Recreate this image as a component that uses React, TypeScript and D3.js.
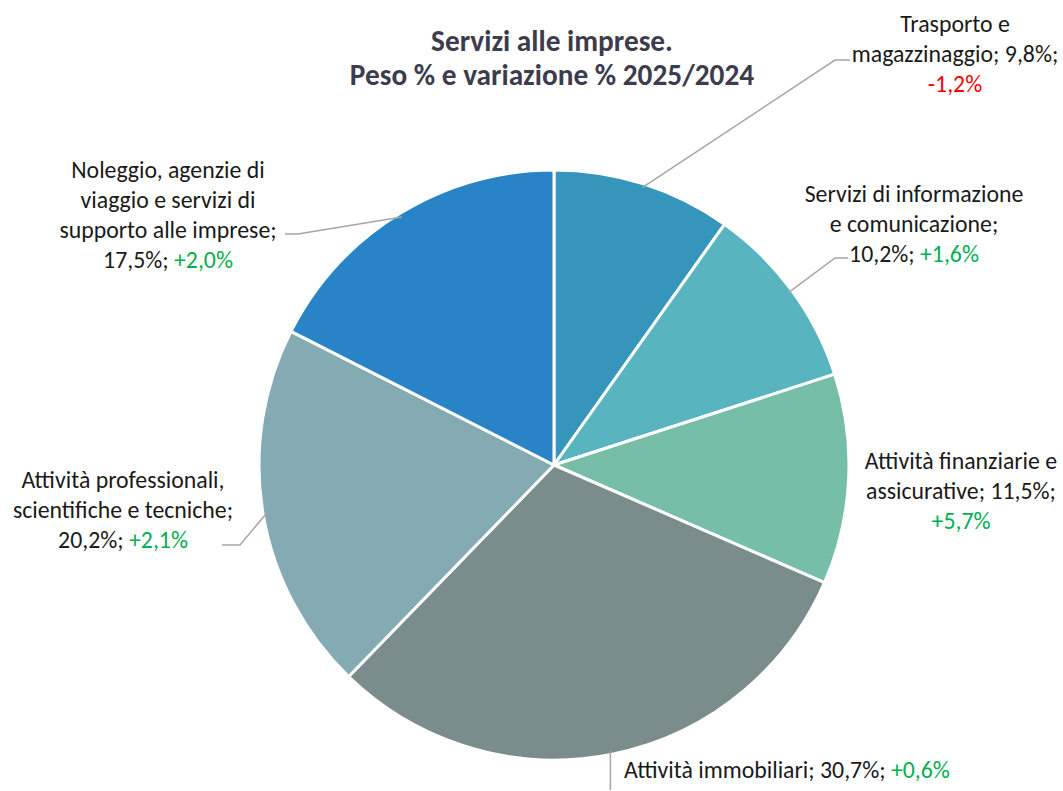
import React from "react";
import * as d3 from "d3";

const categories = [
  "Trasporto e magazzinaggio",
  "Servizi di informazione e comunicazione",
  "Attività finanziarie e assicurative",
  "Attività immobiliari",
  "Attività professionali, scientifiche e tecniche",
  "Noleggio, agenzie di viaggio e servizi di supporto alle imprese",
];
const shares = [9.8, 10.2, 11.5, 30.7, 20.2, 17.5];
const changes = [-1.2, 1.6, 5.7, 0.6, 2.1, 2.0];
const colors = ["#3595BA", "#58B5C0", "#76BEA7", "#7A8C8C", "#84ABB4", "#2884C7"];
const titleLines = ["Servizi alle imprese.", "Peso % e variazione % 2025/2024"];

// label layout: lines of the label text
const labelLayout = [
  { x: 955, y: 23, anchor: "middle", lines: ["Trasporto e", "magazzinaggio; {s};", "{c}"], leader: [[835, 60], [850, 60]] },
  { x: 914, y: 193, anchor: "middle", lines: ["Servizi di informazione", "e comunicazione;", "{s}; {c}"], leader: [[835, 258], [848, 258]] },
  { x: 961, y: 460, anchor: "middle", lines: ["Attività finanziarie e", "assicurative; {s};", "{c}"], leader: null },
  { x: 624, y: 769, anchor: "start", lines: ["Attività immobiliari; {s}; {c}"], leader: [[612, 790]] },
  { x: 123, y: 479, anchor: "middle", lines: ["Attività professionali,", "scientifiche e tecniche;", "{s}; {c}"], leader: [[240, 545], [222, 545]] },
  { x: 168, y: 169, anchor: "middle", lines: ["Noleggio, agenzie di", "viaggio e servizi di", "supporto alle imprese;", "{s}; {c}"], leader: [[298, 234], [285, 234]] },
];

const fmt = (v: number) => v.toFixed(1).replace(".", ",");

export default function App() {
  const width = 1063;
  const height = 791;
  const cx = 554;
  const cy = 465;
  const r = 295;
  const pie = d3.pie<number>().sort(null).value((d) => d);
  const arcs = pie(shares);
  const arc = d3.arc<d3.PieArcDatum<number>>().innerRadius(0).outerRadius(r);
  const font = "Carlito, Calibri, Lato, sans-serif";
  const lineH = 30.3;

  const renderLine = (line: string, i: number) => {
    const s = fmt(shares[i]) + "%";
    const cval = changes[i];
    const c = (cval > 0 ? "+" : "") + fmt(cval) + "%";
    const cColor = cval < 0 ? "#FF0000" : "#00B050";
    const parts = line.replace("{s}", s).split("{c}");
    return (
      <>
        {parts[0]}
        {parts.length > 1 && <tspan fill={cColor}>{c}</tspan>}
        {parts.length > 1 && parts[1]}
      </>
    );
  };

  return (
    <svg width={width} height={height} style={{ position: "absolute", left: 0, top: 0 }}>
      <rect width={width} height={height} fill="#fff" />
      {titleLines.map((t, j) => (
        <text key={j} x={552} y={41 + j * 34} textAnchor="middle" dominantBaseline="central" fontFamily={font} fontWeight="bold" fontSize={29.3} fill="#3C3C4C">
          {t}
        </text>
      ))}
      <g transform={`translate(${cx},${cy})`}>
        {arcs.map((a, i) => (
          <path key={i} d={arc(a) || ""} fill={colors[i]} stroke="#fff" strokeWidth={3} strokeLinejoin="round" />
        ))}
      </g>
      {labelLayout.map((L, i) => {
        if (!L.leader) return null;
        const mid = (arcs[i].startAngle + arcs[i].endAngle) / 2;
        const sx = cx + Math.sin(mid) * (r - 4);
        const sy = cy - Math.cos(mid) * (r - 4);
        const pts = [[sx, sy], ...L.leader];
        let d = d3.line()(pts as [number, number][]) || "";
        if (i === 3) d = `M${sx},${sy}L${sx},${L.leader[0][1]}`;
        return <path key={"l" + i} d={d} fill="none" stroke="#A6A6A6" strokeWidth={1.5} />;
      })}
      {labelLayout.map((L, i) => (
        <text key={"t" + i} fontFamily={font} fontSize={23.8} fill="#1A1A1A" textAnchor={L.anchor as any}>
          {L.lines.map((line, j) => (
            <tspan key={j} x={L.x} y={L.y + j * lineH} dominantBaseline="central">
              {renderLine(line, i)}
            </tspan>
          ))}
        </text>
      ))}
    </svg>
  );
}
